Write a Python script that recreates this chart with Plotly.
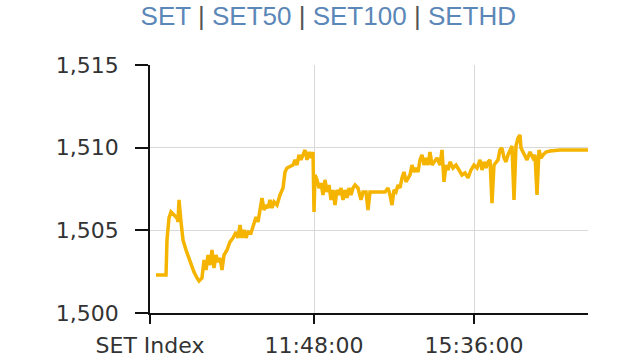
import plotly.graph_objects as go

# sample positions along the session (category-like index) and SET index values
t = [6, 16, 17, 19, 21, 24, 27, 28, 29, 31, 33, 36, 40, 44, 47, 49, 52, 54, 56, 58,
     60, 62, 64, 66, 68, 70, 72, 74, 77, 80, 83, 86, 88, 90, 92, 94, 96, 98, 101, 104,
     106, 108, 110, 112, 114, 116, 118, 120, 122, 124, 127, 130, 133, 135, 137, 140, 143, 145, 147, 149,
     151, 153, 155, 157, 159, 161, 163, 164, 165, 167, 169, 171, 173, 175, 177, 179, 181, 183, 185, 187,
     189, 191, 193, 195, 197, 199, 201, 203, 205, 208, 211, 213, 216, 218, 220, 235, 238, 240, 242, 244,
     246, 248, 250, 252, 254, 256, 258, 260, 262, 264, 266, 268, 270, 272, 274, 276, 278, 280, 282, 285,
     287, 290, 292, 294, 296, 298, 300, 303, 306, 309, 312, 315, 318, 321, 324, 327, 330, 332, 334, 336,
     338, 340, 342, 344, 346, 348, 350, 352, 354, 356, 358, 360, 362, 364, 366, 368, 370, 371, 374, 377,
     380, 383, 385, 387, 389, 391, 393, 396, 400, 410, 438]
v = [1502.30, 1502.30, 1504.42, 1505.75, 1506.11, 1505.93, 1505.75, 1505.51, 1506.84, 1505.51,
     1504.42, 1503.81, 1503.09, 1502.48, 1502.12, 1501.94, 1502.12, 1503.21, 1502.60, 1503.51,
     1502.90, 1503.81, 1502.72, 1503.51, 1503.09, 1503.33, 1502.60, 1503.51, 1503.81, 1504.30,
     1504.54, 1504.90, 1504.54, 1505.32, 1504.54, 1505.02, 1504.54, 1504.90, 1504.84, 1505.51,
     1505.81, 1505.51, 1506.23, 1506.96, 1506.23, 1506.53, 1506.35, 1506.84, 1506.35, 1506.72,
     1506.53, 1507.14, 1507.56, 1508.53, 1508.77, 1508.89, 1508.95, 1509.26, 1508.95, 1509.56,
     1509.26, 1509.56, 1509.86, 1509.26, 1509.74, 1509.38, 1509.74, 1506.11, 1508.35, 1508.05,
     1507.56, 1507.86, 1507.14, 1508.05, 1507.32, 1507.74, 1506.84, 1507.44, 1506.53, 1507.44,
     1507.14, 1507.56, 1506.84, 1507.44, 1506.96, 1507.56, 1507.14, 1507.56, 1507.74, 1507.56,
     1506.84, 1507.32, 1507.32, 1506.23, 1507.32, 1507.32, 1507.56, 1507.14, 1506.53, 1507.44,
     1507.32, 1507.74, 1507.56, 1508.17, 1508.53, 1507.93, 1508.17, 1508.35, 1508.95, 1508.53,
     1508.77, 1508.53, 1509.26, 1509.56, 1508.95, 1509.38, 1508.95, 1509.74, 1508.95, 1509.26,
     1509.38, 1508.95, 1509.86, 1507.93, 1508.95, 1508.65, 1509.14, 1508.77, 1508.95, 1508.65,
     1508.35, 1508.47, 1508.17, 1508.65, 1508.95, 1508.77, 1509.26, 1508.65, 1509.14, 1508.77,
     1509.14, 1509.26, 1506.65, 1508.95, 1509.14, 1509.26, 1509.86, 1509.98, 1509.38, 1509.14,
     1509.56, 1509.86, 1510.10, 1506.84, 1510.10, 1510.59, 1510.77, 1509.98, 1509.56, 1509.26,
     1509.74, 1509.38, 1509.56, 1507.14, 1509.86, 1509.38, 1509.56, 1509.74, 1509.80, 1509.86,
     1509.86]

x_tick_pos = [0, 164, 324]
x_tick_text = ["SET Index", "11:48:00", "15:36:00"]
y_ticks = [1500, 1505, 1510, 1515]
title_links = ["SET", "SET50", "SET100", "SETHD"]

link_color = "#5b87b8"
pipe_color = "#555555"
title_html = (" <span style='color:%s'>|</span> " % pipe_color).join(
    "<span style='color:%s'>%s</span>" % (link_color, s) for s in title_links)

fig = go.Figure()
fig.add_trace(go.Scatter(x=t, y=v, mode="lines",
                         line=dict(color="#f5b400", width=3.5),
                         hoverinfo="skip", showlegend=False))

axis_font = dict(family="DejaVu Sans", size=22, color="#333333")
fig.update_layout(
    width=640, height=360,
    margin=dict(l=150, r=52, t=65, b=47, autoexpand=False),
    paper_bgcolor="white", plot_bgcolor="white",
    title=dict(text=title_html, x=0.513, xanchor="center", y=0.955, yanchor="middle",
               yref="container",
               font=dict(family="Liberation Sans", size=26, color=link_color)),
    xaxis=dict(range=[0, 438], tickmode="array", tickvals=x_tick_pos, ticktext=x_tick_text,
               showgrid=True, gridcolor="#d9d9d9", gridwidth=1,
               showline=True, linecolor="#111111", linewidth=1.5,
               ticks="outside", ticklen=9, tickcolor="#111111", tickwidth=1.5,
               ticklabelstandoff=3, automargin=False,
               tickfont=axis_font, zeroline=False, fixedrange=True),
    yaxis=dict(range=[1500, 1515], tickmode="array", tickvals=y_ticks, tickformat=",d",
               showgrid=True, gridcolor="#d9d9d9", gridwidth=1,
               showline=True, linecolor="#111111", linewidth=1.5,
               ticks="outside", ticklen=13, tickcolor="#111111", tickwidth=1.5,
               ticklabelstandoff=12, automargin=False,
               tickfont=axis_font, zeroline=False, fixedrange=True),
)

fig.write_html("out.html")
